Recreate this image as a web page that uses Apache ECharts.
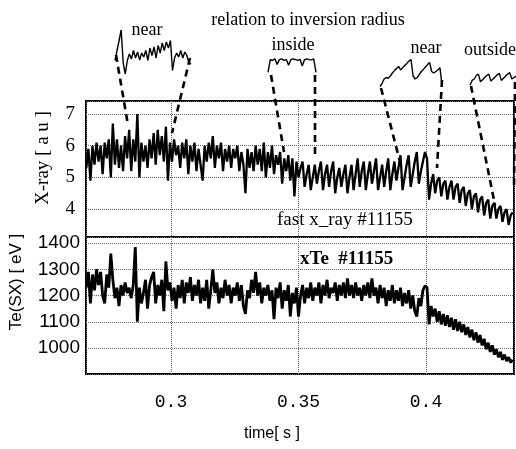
<!DOCTYPE html>
<html><head><meta charset="utf-8">
<script src="https://cdn.jsdelivr.net/npm/echarts@6.0.0/dist/echarts.min.js"></script>
<style>html,body{margin:0;padding:0;background:#fff}#c{width:516px;height:449px}</style>
</head><body><div id="c"></div>
<script>
// sampling of the time axis [s]
const T0 = 0.2668, DT = 0.0008;
// fast x-ray signal [a.u.]
const xray = [
5.3,5.9,4.9,6.0,5.4,6.1,5.5,6.0,5.1,6.1,
5.6,6.2,5.0,6.7,5.4,6.2,5.3,6.0,5.2,6.3,
5.6,6.5,5.2,6.2,5.5,7.0,5.0,6.1,5.5,6.0,
5.3,6.2,5.6,6.4,5.4,6.5,5.7,6.3,5.5,6.6,
4.9,6.1,5.5,6.2,5.7,6.0,5.3,6.1,5.6,6.2,
5.1,6.0,5.5,6.1,5.2,5.9,5.4,4.9,6.0,5.5,
6.1,5.6,6.3,5.3,6.0,5.6,6.1,5.2,5.9,5.5,
6.0,5.3,5.9,5.6,6.0,5.2,5.8,5.4,4.5,5.9,
5.3,5.8,5.2,6.0,5.4,5.9,5.2,6.1,5.0,5.8,
5.3,6.0,5.1,5.7,5.4,5.8,4.8,5.6,5.2,5.7,
4.9,5.6,4.4,5.5,5.0,5.3,5.5,4.7,5.1,5.4,
4.6,5.0,5.4,4.8,5.2,5.5,4.6,5.1,5.4,4.7,
5.2,5.5,4.5,5.0,5.3,4.7,5.1,5.4,4.5,5.0,
5.4,4.6,5.1,5.6,4.7,5.2,5.5,4.6,5.1,5.5,
4.8,5.2,5.6,4.6,5.0,5.4,4.7,5.2,5.6,4.6,
5.1,5.5,4.9,5.3,5.7,4.6,5.0,5.4,5.7,4.7,
5.1,5.5,5.8,4.8,5.2,5.5,5.8,5.6,4.3,4.8,
5.1,4.5,4.9,5.0,4.4,4.8,4.9,4.3,4.7,4.9,
4.3,4.7,4.8,4.2,4.6,4.7,4.1,4.5,4.6,4.0,
4.4,4.5,3.9,4.3,4.4,3.8,4.2,4.3,3.7,4.1,
4.2,3.7,4.0,4.1,3.6,3.9,4.0,3.5,3.8,3.9
];
// electron temperature from SX [eV]
const te = [
1230,1290,1170,1280,1220,1300,1240,1290,1200,1170,
1280,1230,1360,1260,1190,1230,1160,1240,1200,1250,
1210,1230,1190,1240,1385,1100,1230,1170,1210,1260,
1150,1240,1270,1290,1170,1240,1200,1260,1140,1330,
1220,1250,1180,1230,1150,1240,1190,1260,1170,1250,
1210,1270,1180,1240,1200,1260,1170,1230,1180,1260,
1150,1220,1300,1210,1250,1170,1230,1190,1260,1200,
1240,1170,1230,1200,1250,1180,1240,1160,1130,1220,
1190,1260,1210,1290,1200,1250,1170,1230,1200,1240,
1180,1220,1110,1230,1190,1250,1150,1220,1180,1240,
1120,1210,1170,1230,1120,1200,1240,1170,1230,1190,
1250,1180,1230,1200,1250,1170,1240,1200,1260,1190,
1230,1210,1250,1180,1240,1200,1250,1190,1265,1200,
1240,1190,1250,1200,1230,1180,1240,1200,1250,1190,
1265,1200,1230,1170,1240,1190,1230,1160,1220,1180,
1240,1170,1220,1180,1230,1160,1210,1170,1220,1150,
1200,1140,1120,1190,1160,1220,1237,1230,1090,1160,
1120,1150,1100,1140,1090,1130,1085,1125,1080,1115,
1070,1110,1065,1100,1060,1090,1050,1080,1040,1070,
1030,1060,1020,1050,1010,1035,995,1020,985,1010,
975,995,965,985,955,975,950,965,945,955
];
// inset waveforms (relation to inversion radius), normalised
const insetNear1 = [0.35,0.55,0.75,0.96,0.3,0.08,0.35,0.48,0.38,0.55,0.4,0.52,0.36,0.5,0.42,0.55,0.35,0.6,0.45,0.62,0.4,0.65,0.5,0.7,0.55,0.72,0.6,0.75,0.15,0.4,0.5,0.42,0.55,0.4,0.52,0.45,0.3,0.28];
const insetInside = [0.1,0.9,0.85,0.95,0.6,0.9,0.95,0.85,0.9,0.55,0.9,0.95,0.9,0.85,0.92,0.5,0.9,0.95,0.9,0.88,0.95,0.1];
const insetNear2 = [0.05,0.15,0.3,0.35,0.32,0.4,0.5,0.58,0.65,0.72,0.6,0.68,0.75,0.82,0.9,0.95,0.4,0.3,0.35,0.45,0.55,0.62,0.7,0.78,0.85,0.55,0.5,0.55,0.6,0.68,0.1];
const insetOutside = [0.05,0.4,0.5,0.75,0.85,0.3,0.45,0.6,0.75,0.85,0.35,0.5,0.65,0.8,0.9,0.4,0.55,0.7,0.85,0.95,0.5,0.6,0.7];
// dashed connectors (page pixel frame)
const connectors = [
  [[116,55],[128,125]], [[190,58],[172,133]],
  [[271,75],[284,152]], [[315,75],[315,158]],
  [[381,88],[400,162]], [[442,80],[437,168]],
  [[471,86],[495,205]], [[515,82],[514,190]]
];
const xTickLabels = ['0.3','0.35','0.4'];
const xrayTicks = ['4','5','6','7'];
const teTicks = ['1000','1100','1200','1300','1400'];

const SERIF = 'Liberation Serif', SANS = 'Liberation Sans', MONO = 'Liberation Mono';
const chart = echarts.init(document.getElementById('c'), null, {renderer:'canvas'});
const grid = (l,t,w,h,show) => ({left:l, top:t, width:w, height:h, show:!!show, borderColor:'#000', borderWidth:2, backgroundColor:'transparent'});
const split = {show:true, lineStyle:{type:'dotted', color:'#666', width:1}};
const hiddenAxis = (gi, min, max, inv) => ({type:'value', gridIndex:gi, min, max, inverse:!!inv, show:false, splitLine:{show:false}});
const insets = [
  {data: insetNear1, g:[115,28,76,50]},
  {data: insetInside, g:[268,58,48,16]},
  {data: insetNear2, g:[380,58,62,30]},
  {data: insetOutside, g:[470,72,46,14]}
];
const grids = [grid(86,101,428,136,true), grid(86,237,428,137,true), grid(0,0,516,449,false)];
insets.forEach(s => grids.push(grid(s.g[0], s.g[1], s.g[2], s.g[3], false)));

const xAxes = [
  {type:'value', gridIndex:0, min:0.26667, max:0.43451, splitNumber:3, axisLine:{show:false}, axisTick:{show:false}, axisLabel:{show:false}, splitLine:split},
  {type:'value', gridIndex:1, min:0.26667, max:0.43451, splitNumber:3, axisLine:{show:false}, axisTick:{show:false},
   axisLabel:{show:true, color:'#000', fontFamily:MONO, fontSize:18, margin:19, showMinLabel:false, showMaxLabel:false,
     formatter: v => xTickLabels.find(s => Math.abs(parseFloat(s)-v) < 1e-6) || ''}, splitLine:split},
  hiddenAxis(2, 0, 516, false)
];
const yAxes = [
  {type:'value', gridIndex:0, min:3.12, max:7.41, splitNumber:4, axisLine:{show:false}, axisTick:{show:false},
   axisLabel:{color:'#000', fontFamily:SERIF, fontSize:19, margin:11, showMinLabel:false, showMaxLabel:false,
     formatter: v => xrayTicks.indexOf(String(v)) >= 0 ? String(v) : ''}, splitLine:split},
  {type:'value', gridIndex:1, min:901, max:1423, splitNumber:4, axisLine:{show:false}, axisTick:{show:false},
   axisLabel:{color:'#000', fontFamily:SANS, fontSize:19, margin:6, showMinLabel:false, showMaxLabel:false,
     formatter: v => teTicks.indexOf(String(v)) >= 0 ? String(v) : ''}, splitLine:split},
  hiddenAxis(2, 0, 449, true)
];
const series = [
  {type:'line', xAxisIndex:0, yAxisIndex:0, showSymbol:false, data: xray.map((v,i)=>[T0+i*DT, v]), lineStyle:{color:'#000', width:2.3}, z:3},
  {type:'line', xAxisIndex:1, yAxisIndex:1, showSymbol:false, data: te.map((v,i)=>[T0+i*DT, v]), lineStyle:{color:'#000', width:2.8}, z:3}
];
connectors.forEach(c => series.push({type:'line', xAxisIndex:2, yAxisIndex:2, showSymbol:false, data:c, z:4,
  lineStyle:{color:'#000', width:2.6, type:[7,5]}}));
insets.forEach((s, k) => {
  const gi = 3 + k;
  xAxes.push(hiddenAxis(gi, 0, s.data.length-1, false));
  yAxes.push(hiddenAxis(gi, 0, 1, false));
  series.push({type:'line', xAxisIndex:gi, yAxisIndex:gi, showSymbol:false, data: s.data.map((v,i)=>[i,v]), lineStyle:{color:'#000', width:1.4}, z:4});
});
const txt = (x, y, text, font, align, rot) => ({type:'text', x, y, rotation: rot||0, z:10,
  style:{text, font, fill:'#000', align: align||'center', verticalAlign:'middle'}});
chart.setOption({
  animation:false,
  backgroundColor:'#fff',
  grid: grids, xAxis: xAxes, yAxis: yAxes, series,
  graphic: [
    txt(308, 20, 'relation to inversion radius', '18px "' + SERIF + '"'),
    txt(147, 30, 'near', '18px "' + SERIF + '"'),
    txt(293, 45, 'inside', '18px "' + SERIF + '"'),
    txt(426, 48, 'near', '18px "' + SERIF + '"'),
    txt(490, 50, 'outside', '18px "' + SERIF + '"'),
    txt(277, 220, 'fast x_ray #11155', '19px "' + SERIF + '"', 'left'),
    txt(300, 259, 'xTe  #11155', 'bold 19px "' + SERIF + '"', 'left'),
    txt(43, 158, 'X-ray [ a u ]', '19px "' + SERIF + '"', 'center', Math.PI/2),
    txt(16, 282, 'Te(SX) [ eV ]', '17px "' + SANS + '"', 'center', Math.PI/2),
    txt(272, 434, 'time[ s ]', '16px "' + SANS + '"')
  ]
});
</script></body></html>
